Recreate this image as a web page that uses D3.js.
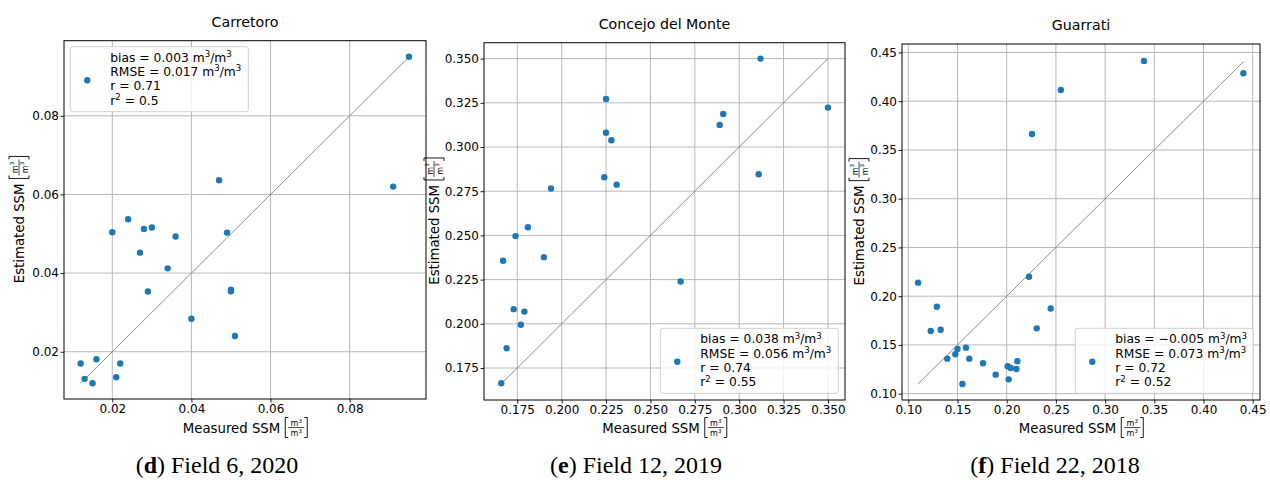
<!DOCTYPE html>
<html><head><meta charset="utf-8">
<script src="https://cdn.jsdelivr.net/npm/d3@7"></script>
<style>
body{margin:0;background:#fff}
svg{display:block}
text{font-family:"DejaVu Sans",sans-serif;fill:#000}
</style>
</head><body>
<svg id="chart" width="1270" height="480"></svg>
<script>
// ---------- data ----------
const titles = ["Carretoro", "Concejo del Monte", "Guarrati"];
const captionLetters = ["d", "e", "f"];
const captionTexts = [" Field 6, 2020", " Field 12, 2019", " Field 22, 2018"];

const carretoroMeasured  = [0.095, 0.091, 0.047, 0.024, 0.020, 0.028, 0.030, 0.036, 0.049, 0.027, 0.034, 0.029, 0.050, 0.050, 0.040, 0.051, 0.012, 0.016, 0.022, 0.013, 0.021, 0.015];
const carretoroEstimated = [0.095, 0.062, 0.0636, 0.0537, 0.0504, 0.0512, 0.0516, 0.0493, 0.0503, 0.0452, 0.0412, 0.0353, 0.0358, 0.0354, 0.0284, 0.024, 0.017, 0.0181, 0.017, 0.0131, 0.0135, 0.012];

const concejoMeasured  = [0.312, 0.350, 0.225, 0.225, 0.228, 0.224, 0.231, 0.194, 0.291, 0.289, 0.311, 0.181, 0.174, 0.167, 0.190, 0.267, 0.173, 0.179, 0.177, 0.169, 0.166];
const concejoEstimated = [0.350, 0.3223, 0.3272, 0.3081, 0.3038, 0.2829, 0.2787, 0.2765, 0.3187, 0.3125, 0.2846, 0.2546, 0.2496, 0.2357, 0.2377, 0.2239, 0.2083, 0.2069, 0.1995, 0.1862, 0.1664];

const guarratiMeasured  = [0.3395, 0.4405, 0.255, 0.2257, 0.110, 0.2227, 0.129, 0.2447, 0.1228, 0.1329, 0.2305, 0.150, 0.1586, 0.1478, 0.1396, 0.162, 0.1759, 0.2108, 0.201, 0.2041, 0.2098, 0.1888, 0.202, 0.155];
const guarratiEstimated = [0.4413, 0.4287, 0.4115, 0.3664, 0.2139, 0.220, 0.1892, 0.1874, 0.1643, 0.1656, 0.167, 0.1458, 0.1472, 0.1404, 0.1359, 0.1359, 0.1312, 0.1332, 0.1281, 0.1263, 0.1253, 0.1195, 0.1147, 0.1099];

const carretoroTicks = [0.02, 0.04, 0.06, 0.08];
const concejoTicks = [0.175, 0.200, 0.225, 0.250, 0.275, 0.300, 0.325, 0.350];
const guarratiTicks = [0.10, 0.15, 0.20, 0.25, 0.30, 0.35, 0.40, 0.45];

const carretoroStats = ["bias = 0.003 m^3/m^3", "RMSE = 0.017 m^3/m^3", "r = 0.71", "r^2 = 0.5"];
const concejoStats   = ["bias = 0.038 m^3/m^3", "RMSE = 0.056 m^3/m^3", "r = 0.74", "r^2 = 0.55"];
const guarratiStats  = ["bias = \u22120.005 m^3/m^3", "RMSE = 0.073 m^3/m^3", "r = 0.72", "r^2 = 0.52"];

const xLabel = "Measured SSM";
const yLabel = "Estimated SSM";

// ---------- layout ----------
const layout = [
  {left: 64,  right: 426,  top: 40.7, bottom: 399, xd: [0.00779, 0.0993], yd: [0.00798, 0.0991], fmt: ".2f", legend: "tl", ylabX: 24,  capX: 217},
  {left: 484, right: 845,  top: 42.7, bottom: 400, xd: [0.15625, 0.3596], yd: [0.1569, 0.359],   fmt: ".3f", legend: "br", ylabX: 439, capX: 636},
  {left: 902, right: 1260, top: 44,   bottom: 400, xd: [0.0936, 0.4574],  yd: [0.0935, 0.4587],  fmt: ".2f", legend: "br", ylabX: 864, capX: 1055}
];
const panelData = [
  {mx: carretoroMeasured, ey: carretoroEstimated, ticks: carretoroTicks, stats: carretoroStats},
  {mx: concejoMeasured, ey: concejoEstimated, ticks: concejoTicks, stats: concejoStats},
  {mx: guarratiMeasured, ey: guarratiEstimated, ticks: guarratiTicks, stats: guarratiStats}
];

const svg = d3.select("#chart");
const blue = "#1f77b4";

function richText(sel, str, size) {
  const parts = str.split(/\^(.)/);
  const shift = size * 0.38;
  parts.forEach((p, i) => {
    if (p === "") return;
    if (i % 2 === 1) {
      sel.append("tspan").attr("font-size", size * 0.7).attr("dy", -shift).text(p);
    } else {
      const t = sel.append("tspan").text(p);
      if (i > 0) t.attr("dy", shift);
    }
  });
}

function unitLabel(cx, cy, str, rotate) {
  const g = svg.append("g").attr("transform", `translate(${cx},${cy})` + (rotate ? " rotate(-90)" : ""));
  const inner = g.append("g");
  const t = inner.append("text").attr("font-size", 13.3).text(str);
  const w = t.node().getComputedTextLength();
  const bx = w + 5, bw = 22;
  inner.append("path")
    .attr("d", `M${bx + 3},-15H${bx}V5H${bx + 3}M${bx + bw - 3},-15H${bx + bw}V5H${bx + bw - 3}`)
    .attr("fill", "none").attr("stroke", "#000").attr("stroke-width", 0.9);
  inner.append("line").attr("x1", bx + 3).attr("x2", bx + bw - 3).attr("y1", -5).attr("y2", -5)
    .attr("stroke", "#000").attr("stroke-width", 0.7);
  const num = inner.append("text").attr("x", bx + bw / 2).attr("y", -6.5).attr("text-anchor", "middle").attr("font-size", 8);
  richText(num, "m^3", 8);
  const den = inner.append("text").attr("x", bx + bw / 2).attr("y", 3.5).attr("text-anchor", "middle").attr("font-size", 8);
  richText(den, "m^3", 8);
  inner.attr("transform", `translate(${-(bx + bw) / 2},0)`);
}

layout.forEach((L, i) => {
  const D = panelData[i];
  const x = d3.scaleLinear().domain(L.xd).range([L.left, L.right]);
  const y = d3.scaleLinear().domain(L.yd).range([L.bottom, L.top]);
  const g = svg.append("g");

  // grid
  g.append("g").selectAll("line.vx").data(D.ticks).join("line")
    .attr("x1", d => x(d)).attr("x2", d => x(d)).attr("y1", L.top).attr("y2", L.bottom)
    .attr("stroke", "#b8b8b8").attr("stroke-width", 1);
  g.append("g").selectAll("line.hy").data(D.ticks).join("line")
    .attr("y1", d => y(d)).attr("y2", d => y(d)).attr("x1", L.left).attr("x2", L.right)
    .attr("stroke", "#b8b8b8").attr("stroke-width", 1);

  // axes
  const fmt = d3.format(L.fmt);
  const xa = g.append("g").attr("transform", `translate(0,${L.bottom})`)
    .call(d3.axisBottom(x).tickValues(D.ticks).tickFormat(fmt).tickSize(3.5).tickPadding(1.5));
  const ya = g.append("g").attr("transform", `translate(${L.left},0)`)
    .call(d3.axisLeft(y).tickValues(D.ticks).tickFormat(fmt).tickSize(3.5).tickPadding(1.5));
  [xa, ya].forEach(a => {
    a.select(".domain").remove();
    a.selectAll("text").attr("font-size", 12).attr("font-family", "DejaVu Sans").attr("fill", "#000");
    a.selectAll("line").attr("stroke", "#000").attr("stroke-width", 0.9);
  });

  // 1:1 line
  const ext = d3.extent(D.mx);
  g.append("line").attr("x1", x(ext[0])).attr("y1", y(ext[0])).attr("x2", x(ext[1])).attr("y2", y(ext[1]))
    .attr("stroke", "#808080").attr("stroke-width", 0.9);

  // points
  g.append("g").selectAll("circle").data(D.mx.map((v, k) => [v, D.ey[k]])).join("circle")
    .attr("cx", d => x(d[0])).attr("cy", d => y(d[1])).attr("r", 3.2).attr("fill", blue);

  // spines
  g.append("rect").attr("x", L.left).attr("y", L.top).attr("width", L.right - L.left).attr("height", L.bottom - L.top)
    .attr("fill", "none").attr("stroke", "#000").attr("stroke-width", 1);

  // legend
  const lw = 178, lh = 65;
  const lx = L.legend === "tl" ? L.left + 6.3 : L.right - 6.7 - lw;
  const ly = L.legend === "tl" ? L.top + 6 : L.bottom - 6.7 - lh;
  g.append("rect").attr("x", lx).attr("y", ly).attr("width", lw).attr("height", lh).attr("rx", 2.5)
    .attr("fill", "#fff").attr("fill-opacity", 0.8).attr("stroke", "#d0d0d0").attr("stroke-width", 1);
  g.append("circle").attr("cx", lx + 17).attr("cy", ly + lh / 2 + 1).attr("r", 3.2).attr("fill", blue);
  D.stats.forEach((s, k) => {
    const t = g.append("text").attr("x", lx + 40).attr("y", ly + 15 + k * 14.3).attr("font-size", 12.3);
    richText(t, s, 12.3);
  });

  // title
  svg.append("text").attr("x", (L.left + L.right) / 2).attr("y", L.top - 14).attr("text-anchor", "middle")
    .attr("font-size", 14.2).text(titles[i]);

  // axis labels
  unitLabel((L.left + L.right) / 2, 432.5, xLabel, false);
  unitLabel(L.ylabX, (L.top + L.bottom) / 2, yLabel, true);

  // caption
  const cap = svg.append("text").attr("x", L.capX).attr("y", 473).attr("text-anchor", "middle")
    .attr("font-size", 24).style("font-family", "'Liberation Serif', serif");
  cap.append("tspan").text("(");
  cap.append("tspan").attr("font-weight", "bold").text(captionLetters[i]);
  cap.append("tspan").text(")" + captionTexts[i]);
});
</script>
</body></html>
